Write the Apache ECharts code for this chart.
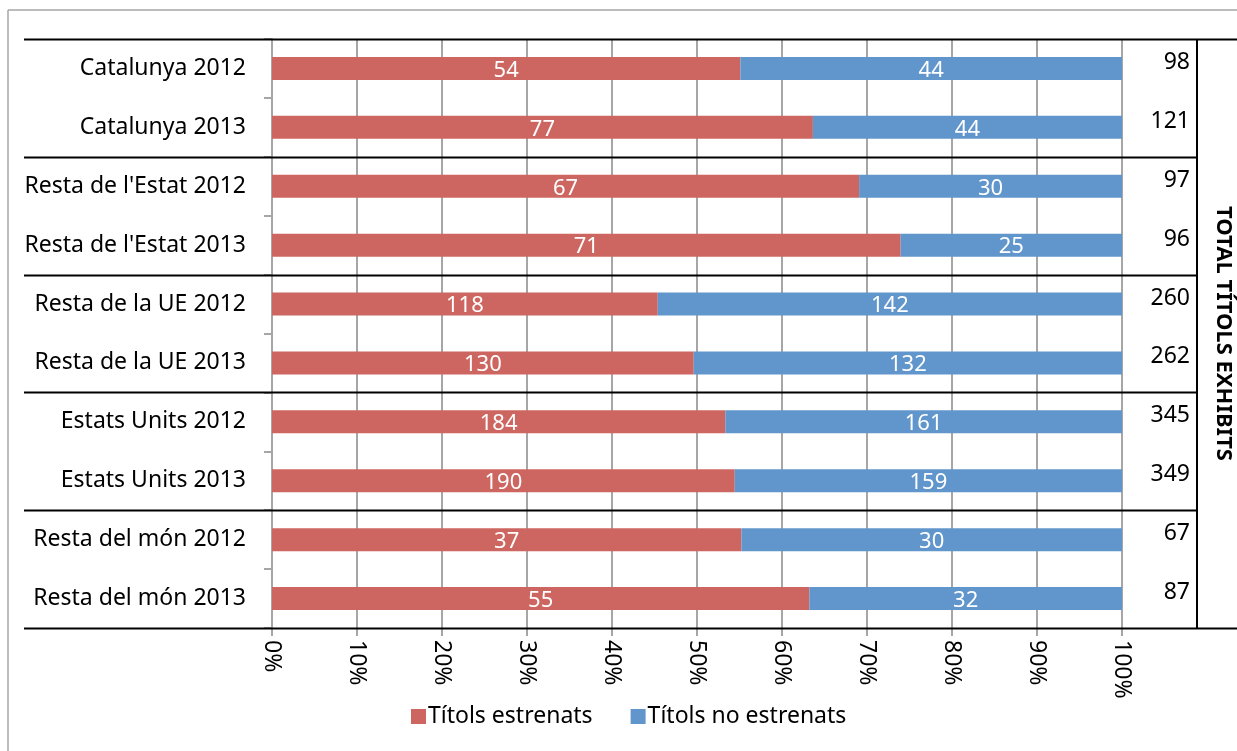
<!DOCTYPE html>
<html>
<head>
<meta charset="utf-8">
<script src="https://cdn.jsdelivr.net/npm/echarts@6/dist/echarts.min.js"></script>
<style>
html,body{margin:0;padding:0;background:#fff;}
#c{width:1237px;height:751px;}
</style>
</head>
<body>
<div id="c"></div>
<script>
var categories = ["Catalunya 2012","Catalunya 2013","Resta de l'Estat 2012","Resta de l'Estat 2013","Resta de la UE 2012","Resta de la UE 2013","Estats Units 2012","Estats Units 2013","Resta del món 2012","Resta del món 2013"];
var estrenats = [54,77,67,71,118,130,184,190,37,55];
var noEstrenats = [44,44,30,25,142,132,161,159,30,32];
var totals = [98,121,97,96,260,262,345,349,67,87];
var xTicks = ["0%","10%","20%","30%","40%","50%","60%","70%","80%","90%","100%"];
var seriesNames = ["Títols estrenats","Títols no estrenats"];
var rightTitle = "TOTAL TÍTOLS EXHIBITS";

var FONT = "Noto Sans";
function pct(arr, i){ return arr[i] / (estrenats[i] + noEstrenats[i]) * 100; }
var s1 = estrenats.map(function(v,i){ return {value: pct(estrenats,i), raw: v}; });
var s2 = noEstrenats.map(function(v,i){ return {value: pct(noEstrenats,i), raw: v}; });

var chart = echarts.init(document.getElementById('c'));
var labelCfg = {
  show: true, position: 'inside', color: '#fff', fontFamily: FONT, fontSize: 22,
  offset: [0, 2],
  formatter: function(p){ return p.data.raw; }
};
chart.setOption({
  animation: false,
  textStyle: {fontFamily: FONT},
  grid: {left: 272, right: 115, top: 39, bottom: 123, containLabel: false, outerBoundsMode: 'none'},
  legend: {
    data: seriesNames, left: 406, top: 700, itemWidth: 15, itemHeight: 15, itemGap: 38,
    icon: 'rect',
    textStyle: {fontFamily: FONT, fontSize: 23, color: '#000', padding: [0,0,0,-3]}
  },
  xAxis: {
    type: 'value', min: 0, max: 100, interval: 10,
    axisLine: {show: false},
    axisTick: {show: true, length: 8, lineStyle: {color: '#A6A6A6', width: 2}},
    splitLine: {show: true, lineStyle: {color: '#A6A6A6', width: 2}},
    axisLabel: {
      rotate: -90, margin: 12, color: '#000', fontFamily: FONT, fontSize: 23,
      formatter: function(v){ return xTicks[Math.round(v/10)]; }
    }
  },
  yAxis: [{
    type: 'category', data: categories, inverse: true,
    axisLine: {show: true, lineStyle: {color: '#A6A6A6', width: 2}},
    axisTick: {show: true, length: 8, lineStyle: {color: '#A6A6A6', width: 2}},
    axisLabel: {margin: 26, color: '#000', fontFamily: FONT, fontSize: 23}
  },{
    type: 'category', data: totals.map(String), inverse: true, position: 'right',
    axisLine: {show: false}, axisTick: {show: false},
    axisLabel: {margin: 68, align: 'right', verticalAlign: 'bottom', lineHeight: 12, color: '#000', fontFamily: FONT, fontSize: 23},
    name: rightTitle, nameLocation: 'middle', nameRotate: -90, nameGap: 90,
    nameTextStyle: {fontFamily: FONT, fontSize: 22, fontWeight: 'bold', color: '#000'}
  }],
  series: [{
    name: seriesNames[0], type: 'bar', stack: 'a', data: s1, barWidth: 23,
    itemStyle: {color: '#CD6660'}, label: labelCfg
  },{
    name: seriesNames[1], type: 'bar', stack: 'a', data: s2, barWidth: 23,
    itemStyle: {color: '#6096CB'}, label: labelCfg
  }]
});

// decorative table-like separator lines, derived from axis positions
var c0 = chart.convertToPixel({yAxisIndex: 0}, categories[0]);
var c1 = chart.convertToPixel({yAxisIndex: 0}, categories[1]);
var band = c1 - c0;
var topY = c0 - band/2;
var botY = chart.convertToPixel({yAxisIndex: 0}, categories[categories.length-1]) + band/2;
var rightX = chart.convertToPixel({xAxisIndex: 0}, 100);
var boxX = rightX + 75;
var els = [];
function line(x1,y1,x2,y2,color,w){
  els.push({type:'line', shape:{x1:x1,y1:y1,x2:x2,y2:y2}, style:{stroke:color,lineWidth:w}, z:100, silent:true});
}
line(24, Math.round(topY)+0.5, 1237, Math.round(topY)+0.5, '#000', 2);
line(24, Math.round(botY)+0.5, 1237, Math.round(botY)+0.5, '#000', 2);
for (var i = 2; i < categories.length; i += 2) {
  var y = topY + band * i;
  line(24, Math.round(y)+0.5, boxX, Math.round(y)+0.5, '#000', 2);
}
line(boxX, topY, boxX, botY, '#000', 2);
// outer chart frame
line(8, 10, 1237, 10, '#A6A6A6', 1.5);
line(8, 10, 8, 751, '#A6A6A6', 1.5);
chart.setOption({graphic: els});
</script>
</body>
</html>
